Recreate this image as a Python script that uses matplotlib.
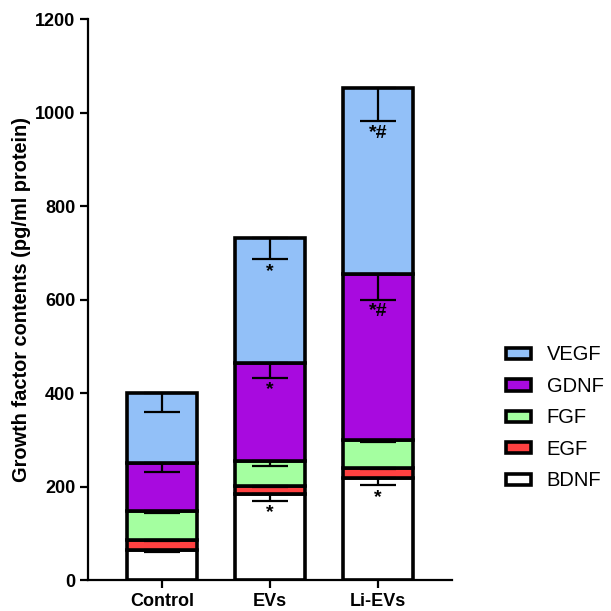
import matplotlib.pyplot as plt
import numpy as np

plt.rcParams['font.family'] = ['Liberation Sans', 'DejaVu Sans']

groups = ["Control", "EVs", "Li-EVs"]
factors = ["BDNF", "EGF", "FGF", "GDNF", "VEGF"]
colors = ["#FFFFFF", "#FF4141", "#A4FFA0", "#A80ADF", "#92C0F8"]

# mean contents per factor (pg/ml protein), one value per group
bdnf = [65, 184, 218]
egf = [20, 18, 22]
fgf = [62, 53, 60]
gdnf = [103, 210, 355]
vegf = [150, 267, 397]

# SEM per factor
bdnf_err = [6, 14, 15]
egf_err = [2, 2, 2]
fgf_err = [4, 12, 4]
gdnf_err = [18, 32, 55]
vegf_err = [40, 45, 70]

# significance marks per factor and group
bdnf_sig = ["", "*", "*"]
gdnf_sig = ["", "*", "*#"]
vegf_sig = ["", "*", "*#"]

values = [bdnf, egf, fgf, gdnf, vegf]
errors = [bdnf_err, egf_err, fgf_err, gdnf_err, vegf_err]
marks = [bdnf_sig, None, None, gdnf_sig, vegf_sig]

fig = plt.figure(figsize=(6.11, 6.11), dpi=100)
ax = fig.add_axes([0.144, 0.0507, 0.596, 0.918])

x = np.arange(len(groups))
bottom = np.zeros(len(groups))
handles = []
for name, vals, errs, col, sig in zip(factors, values, errors, colors, marks):
    vals = np.array(vals, dtype=float)
    b = ax.bar(x, vals, 0.65, bottom=bottom, color=col, edgecolor="black",
               linewidth=2.6, label=name, zorder=2)
    handles.append(b)
    top = bottom + vals
    ax.errorbar(x, top, yerr=[errs, np.zeros(len(errs))], fmt="none",
                ecolor="black", elinewidth=1.6, capsize=13, capthick=1.6,
                zorder=3)
    if sig is not None:
        for xi, ti, ei, s in zip(x, top, errs, sig):
            if s:
                ax.text(xi, ti - ei - 8, s, ha="center", va="top",
                        fontsize=14, fontweight="bold")
    bottom = top

ax.set_xlim(-0.685, 2.685)
ax.set_ylim(0, 1200)
ax.set_yticks(range(0, 1201, 200))
ax.set_xticks(x)
ax.set_xticklabels(groups, fontsize=13, fontweight="bold")
for lab in ax.get_yticklabels():
    lab.set_fontsize(13)
    lab.set_fontweight("bold")
ax.set_ylabel("Growth factor contents (pg/ml protein)", fontsize=14.4,
              fontweight="bold", labelpad=3)

for side in ["top", "right"]:
    ax.spines[side].set_visible(False)
for side in ["left", "bottom"]:
    ax.spines[side].set_linewidth(1.6)
ax.tick_params(axis="both", width=1.6, length=6, pad=3)

leg = ax.legend(handles[::-1], factors[::-1], loc="center left",
                bbox_to_anchor=(1.097, 0.289), frameon=False, fontsize=14.5,
                handlelength=1.25, handleheight=0.5, labelspacing=0.62,
                handletextpad=0.8)
for p in leg.get_patches():
    p.set_linewidth(2.6)

fig.savefig("out.png", dpi=100)
